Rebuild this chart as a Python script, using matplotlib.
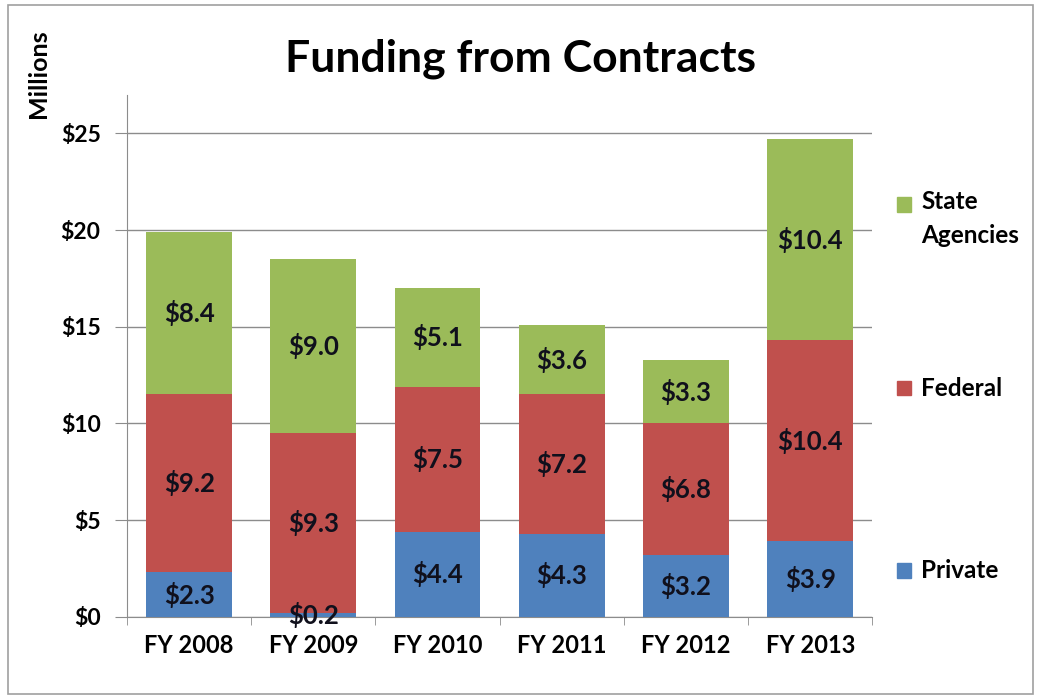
import numpy as np
import matplotlib.pyplot as plt
from matplotlib.patches import Rectangle

years = ['FY 2008', 'FY 2009', 'FY 2010', 'FY 2011', 'FY 2012', 'FY 2013']
private = [2.3, 0.2, 4.4, 4.3, 3.2, 3.9]
federal = [9.2, 9.3, 7.5, 7.2, 6.8, 10.4]
state = [8.4, 9.0, 5.1, 3.6, 3.3, 10.4]
series_names = ['Private', 'Federal', 'State\nAgencies']
colors = ['#4F81BD', '#C0504D', '#9BBB59']

plt.rcParams['font.family'] = ['Lato', 'DejaVu Sans']
plt.rcParams['font.weight'] = 'bold'

fig = plt.figure(figsize=(10.41, 6.97), dpi=100)
ax = fig.add_axes([0.122, 0.115, 0.716, 0.749])

x = np.arange(len(years))
bottom = np.zeros(len(years))
for vals, col in zip([private, federal, state], colors):
    vals = np.array(vals)
    ax.bar(x, vals, 0.69, bottom=bottom, color=col, zorder=3)
    for xi, b, v in zip(x, bottom, vals):
        ax.text(xi, b + v / 2, '$%.1f' % v, ha='center', va='center',
                fontsize=18.5, fontweight='bold', color='#10101c', zorder=4)
    bottom += vals

ax.set_xlim(-0.5, len(years) - 0.5)
ax.set_ylim(0, 27)
ax.set_yticks(range(0, 30, 5))
ax.set_yticklabels(['$%d' % v for v in range(0, 30, 5)], fontweight='bold')
ax.yaxis.grid(True, color='#8c8c8c', linewidth=1, zorder=0)
ax.set_xticks(x)
ax.set_xticklabels(years, fontweight='bold')
ax.set_xticks(np.arange(-0.5, len(years)), minor=True)
ax.tick_params(axis='x', which='major', length=0, pad=12, labelsize=17)
ax.tick_params(axis='x', which='minor', length=6, color='#8c8c8c')
ax.tick_params(axis='y', length=9, color='#8c8c8c', labelsize=16.5, pad=10)
for s in ['top', 'right']:
    ax.spines[s].set_visible(False)
for s in ['left', 'bottom']:
    ax.spines[s].set_color('#8c8c8c')
ax.set_axisbelow(True)

fig.text(0.5, 0.915, 'Funding from Contracts', ha='center', va='center',
         fontsize=32, fontweight='bold')
fig.text(0.037, 0.894, 'Millions', rotation=90, ha='center', va='center',
         fontsize=18, fontweight='bold')

# legend
leg_y = [0.181, 0.443, 0.706]
for name, col, yy in zip(series_names, colors, leg_y):
    fig.patches.append(Rectangle((0.862, yy - 0.010), 0.0135, 0.021,
                                 color=col, transform=fig.transFigure))
    t = fig.text(0.885, yy, name, ha='left', va='center',
                 fontsize=17.5, fontweight='bold', linespacing=1.6,
                 transform=fig.transFigure)
t.set_va('top')
t.set_position((0.885, leg_y[-1] + 0.022))

fig.patches.append(Rectangle((0.008, 0.005), 0.984, 0.988, fill=False,
                             edgecolor='#a0a0a0', linewidth=1.2,
                             transform=fig.transFigure))

fig.savefig('out.png', dpi=100)
